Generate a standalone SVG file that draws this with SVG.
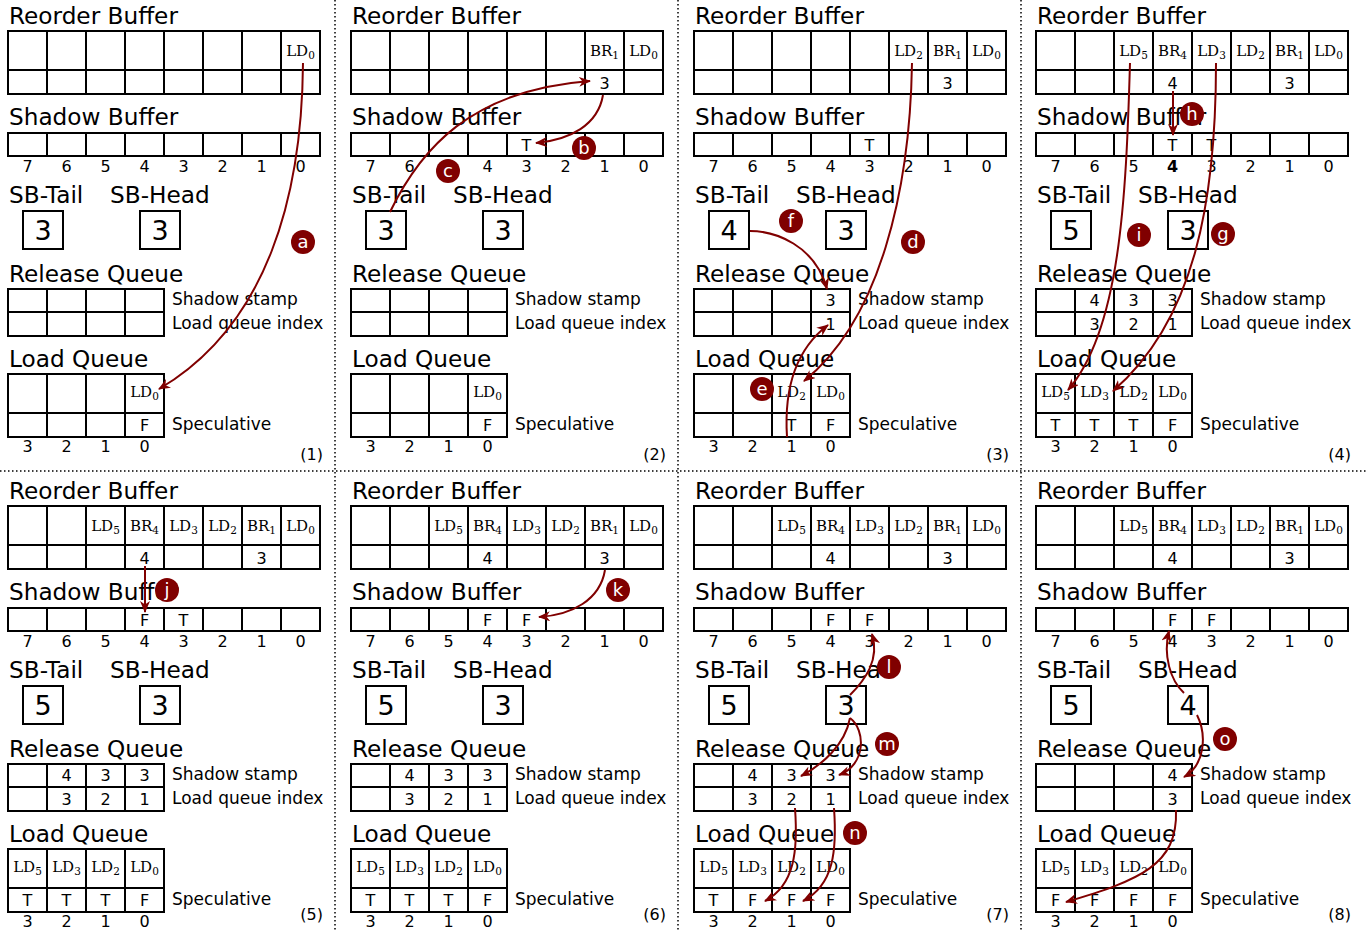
<svg xmlns="http://www.w3.org/2000/svg" width="1366" height="930" viewBox="0 0 1366 930">
<style>
.t{font-family:"DejaVu Sans","Liberation Sans",sans-serif;font-size:23.2px;fill:#000}
.l{font-family:"DejaVu Sans","Liberation Sans",sans-serif;font-size:17px;fill:#000}
.s{font-family:"DejaVu Sans","Liberation Sans",sans-serif;font-size:16px;fill:#000;text-anchor:middle}
.n{font-family:"DejaVu Sans","Liberation Sans",sans-serif;font-size:16px;fill:#000;text-anchor:end}
.b{font-family:"DejaVu Sans","Liberation Sans",sans-serif;font-size:27px;fill:#000;text-anchor:middle}
.c{font-family:"DejaVu Serif","Liberation Serif",serif;font-size:15px;fill:#000;text-anchor:middle}
.sub{font-size:10.5px}
.g{fill:none;stroke:#000;stroke-width:2}
.bx{fill:#fff;stroke:#000;stroke-width:2}
.sep{fill:none;stroke:#000;stroke-width:1.5;stroke-dasharray:1.5 2.5}
.ar{fill:none;stroke:#800000;stroke-width:2;marker-end:url(#ah)}
.lc{fill:#800000}
.lt{font-family:"DejaVu Sans","Liberation Sans",sans-serif;font-size:18px;fill:#fff;text-anchor:middle}
</style>
<defs>
<marker id="ah" markerWidth="14" markerHeight="12" refX="11" refY="5" orient="auto" markerUnits="userSpaceOnUse"><path d="M0,0L12,5L0,10L3.5,5Z" fill="#800000"/></marker>
</defs>
<rect width="1366" height="930" fill="#fff"/>
<g id="separators">
<path class="sep" d="M335,0V930M678,0V930M1021,0V930M0,471H1366"/>
</g>

<!-- Panel 1 -->
<g id="panel1" transform="translate(0,0)">
<g id="p1-rob"><text class="t" x="9" y="24">Reorder Buffer</text><rect class="bx" x="8" y="31" width="312" height="63"/><path class="g" d="M8,70H320M47,31V94M86,31V94M125,31V94M164,31V94M203,31V94M242,31V94M281,31V94"/>
<text class="c" x="300.5" y="56">LD<tspan class="sub" dy="3">0</tspan></text></g>
<g id="p1-sb"><text class="t" x="9" y="125">Shadow Buffer</text><rect class="bx" x="8" y="133" width="312" height="23"/><path class="g" d="M47,133V156M86,133V156M125,133V156M164,133V156M203,133V156M242,133V156M281,133V156"/>
<text class="s" x="27.5" y="172">7</text><text class="s" x="66.5" y="172">6</text><text class="s" x="105.5" y="172">5</text><text class="s" x="144.5" y="172">4</text><text class="s" x="183.5" y="172">3</text><text class="s" x="222.5" y="172">2</text><text class="s" x="261.5" y="172">1</text><text class="s" x="300.5" y="172">0</text></g>
<g id="p1-tail"><text class="t" x="9" y="203">SB-Tail</text><rect class="bx" x="23" y="211" width="40" height="38"/><text class="b" x="43" y="240">3</text></g>
<g id="p1-head"><text class="t" x="110" y="203">SB-Head</text><rect class="bx" x="140" y="211" width="40" height="38"/><text class="b" x="160" y="240">3</text></g>
<g id="p1-rq"><text class="t" x="9" y="282">Release Queue</text><rect class="bx" x="8" y="289" width="156" height="47"/><path class="g" d="M8,312H164M47,289V336M86,289V336M125,289V336"/>
<text class="l" x="172" y="305">Shadow stamp</text><text class="l" x="172" y="329">Load queue index</text></g>
<g id="p1-lq"><text class="t" x="9" y="367">Load Queue</text><rect class="bx" x="8" y="374" width="156" height="63"/><path class="g" d="M8,413H164M47,374V437M86,374V437M125,374V437"/>
<text class="l" x="172" y="430">Speculative</text>
<text class="s" x="27.5" y="452">3</text><text class="s" x="66.5" y="452">2</text><text class="s" x="105.5" y="452">1</text><text class="s" x="144.5" y="452">0</text>
<text class="c" x="144.5" y="397">LD<tspan class="sub" dy="3">0</tspan></text>
<text class="s" x="144.5" y="431">F</text></g>
<text class="n" x="323" y="460">(1)</text>
</g>

<!-- Panel 2 -->
<g id="panel2" transform="translate(343,0)">
<g id="p2-rob"><text class="t" x="9" y="24">Reorder Buffer</text><rect class="bx" x="8" y="31" width="312" height="63"/><path class="g" d="M8,70H320M47,31V94M86,31V94M125,31V94M164,31V94M203,31V94M242,31V94M281,31V94"/>
<text class="c" x="261.5" y="56">BR<tspan class="sub" dy="3">1</tspan></text><text class="c" x="300.5" y="56">LD<tspan class="sub" dy="3">0</tspan></text>
<text class="s" x="261.5" y="89">3</text></g>
<g id="p2-sb"><text class="t" x="9" y="125">Shadow Buffer</text><rect class="bx" x="8" y="133" width="312" height="23"/><path class="g" d="M47,133V156M86,133V156M125,133V156M164,133V156M203,133V156M242,133V156M281,133V156"/>
<text class="s" x="183.5" y="151">T</text>
<text class="s" x="27.5" y="172">7</text><text class="s" x="66.5" y="172">6</text><text class="s" x="105.5" y="172">5</text><text class="s" x="144.5" y="172">4</text><text class="s" x="183.5" y="172">3</text><text class="s" x="222.5" y="172">2</text><text class="s" x="261.5" y="172">1</text><text class="s" x="300.5" y="172">0</text></g>
<g id="p2-tail"><text class="t" x="9" y="203">SB-Tail</text><rect class="bx" x="23" y="211" width="40" height="38"/><text class="b" x="43" y="240">3</text></g>
<g id="p2-head"><text class="t" x="110" y="203">SB-Head</text><rect class="bx" x="140" y="211" width="40" height="38"/><text class="b" x="160" y="240">3</text></g>
<g id="p2-rq"><text class="t" x="9" y="282">Release Queue</text><rect class="bx" x="8" y="289" width="156" height="47"/><path class="g" d="M8,312H164M47,289V336M86,289V336M125,289V336"/>
<text class="l" x="172" y="305">Shadow stamp</text><text class="l" x="172" y="329">Load queue index</text></g>
<g id="p2-lq"><text class="t" x="9" y="367">Load Queue</text><rect class="bx" x="8" y="374" width="156" height="63"/><path class="g" d="M8,413H164M47,374V437M86,374V437M125,374V437"/>
<text class="l" x="172" y="430">Speculative</text>
<text class="s" x="27.5" y="452">3</text><text class="s" x="66.5" y="452">2</text><text class="s" x="105.5" y="452">1</text><text class="s" x="144.5" y="452">0</text>
<text class="c" x="144.5" y="397">LD<tspan class="sub" dy="3">0</tspan></text>
<text class="s" x="144.5" y="431">F</text></g>
<text class="n" x="323" y="460">(2)</text>
</g>

<!-- Panel 3 -->
<g id="panel3" transform="translate(686,0)">
<g id="p3-rob"><text class="t" x="9" y="24">Reorder Buffer</text><rect class="bx" x="8" y="31" width="312" height="63"/><path class="g" d="M8,70H320M47,31V94M86,31V94M125,31V94M164,31V94M203,31V94M242,31V94M281,31V94"/>
<text class="c" x="222.5" y="56">LD<tspan class="sub" dy="3">2</tspan></text><text class="c" x="261.5" y="56">BR<tspan class="sub" dy="3">1</tspan></text><text class="c" x="300.5" y="56">LD<tspan class="sub" dy="3">0</tspan></text>
<text class="s" x="261.5" y="89">3</text></g>
<g id="p3-sb"><text class="t" x="9" y="125">Shadow Buffer</text><rect class="bx" x="8" y="133" width="312" height="23"/><path class="g" d="M47,133V156M86,133V156M125,133V156M164,133V156M203,133V156M242,133V156M281,133V156"/>
<text class="s" x="183.5" y="151">T</text>
<text class="s" x="27.5" y="172">7</text><text class="s" x="66.5" y="172">6</text><text class="s" x="105.5" y="172">5</text><text class="s" x="144.5" y="172">4</text><text class="s" x="183.5" y="172">3</text><text class="s" x="222.5" y="172">2</text><text class="s" x="261.5" y="172">1</text><text class="s" x="300.5" y="172">0</text></g>
<g id="p3-tail"><text class="t" x="9" y="203">SB-Tail</text><rect class="bx" x="23" y="211" width="40" height="38"/><text class="b" x="43" y="240">4</text></g>
<g id="p3-head"><text class="t" x="110" y="203">SB-Head</text><rect class="bx" x="140" y="211" width="40" height="38"/><text class="b" x="160" y="240">3</text></g>
<g id="p3-rq"><text class="t" x="9" y="282">Release Queue</text><rect class="bx" x="8" y="289" width="156" height="47"/><path class="g" d="M8,312H164M47,289V336M86,289V336M125,289V336"/>
<text class="s" x="144.5" y="306">3</text><text class="s" x="144.5" y="330">1</text>
<text class="l" x="172" y="305">Shadow stamp</text><text class="l" x="172" y="329">Load queue index</text></g>
<g id="p3-lq"><text class="t" x="9" y="367">Load Queue</text><rect class="bx" x="8" y="374" width="156" height="63"/><path class="g" d="M8,413H164M47,374V437M86,374V437M125,374V437"/>
<text class="l" x="172" y="430">Speculative</text>
<text class="s" x="27.5" y="452">3</text><text class="s" x="66.5" y="452">2</text><text class="s" x="105.5" y="452">1</text><text class="s" x="144.5" y="452">0</text>
<text class="c" x="105.5" y="397">LD<tspan class="sub" dy="3">2</tspan></text><text class="c" x="144.5" y="397">LD<tspan class="sub" dy="3">0</tspan></text>
<text class="s" x="105.5" y="431">T</text><text class="s" x="144.5" y="431">F</text></g>
<text class="n" x="323" y="460">(3)</text>
</g>

<!-- Panel 4 -->
<g id="panel4" transform="translate(1028,0)">
<g id="p4-rob"><text class="t" x="9" y="24">Reorder Buffer</text><rect class="bx" x="8" y="31" width="312" height="63"/><path class="g" d="M8,70H320M47,31V94M86,31V94M125,31V94M164,31V94M203,31V94M242,31V94M281,31V94"/>
<text class="c" x="105.5" y="56">LD<tspan class="sub" dy="3">5</tspan></text><text class="c" x="144.5" y="56">BR<tspan class="sub" dy="3">4</tspan></text><text class="c" x="183.5" y="56">LD<tspan class="sub" dy="3">3</tspan></text><text class="c" x="222.5" y="56">LD<tspan class="sub" dy="3">2</tspan></text><text class="c" x="261.5" y="56">BR<tspan class="sub" dy="3">1</tspan></text><text class="c" x="300.5" y="56">LD<tspan class="sub" dy="3">0</tspan></text>
<text class="s" x="144.5" y="89">4</text><text class="s" x="261.5" y="89">3</text></g>
<g id="p4-sb"><text class="t" x="9" y="125">Shadow Buffer</text><rect class="bx" x="8" y="133" width="312" height="23"/><path class="g" d="M47,133V156M86,133V156M125,133V156M164,133V156M203,133V156M242,133V156M281,133V156"/>
<text class="s" x="144.5" y="151">T</text><text class="s" x="183.5" y="151">T</text>
<text class="s" x="27.5" y="172">7</text><text class="s" x="66.5" y="172">6</text><text class="s" x="105.5" y="172">5</text><text class="s" x="144.5" y="172" font-weight="bold">4</text><text class="s" x="183.5" y="172">3</text><text class="s" x="222.5" y="172">2</text><text class="s" x="261.5" y="172">1</text><text class="s" x="300.5" y="172">0</text></g>
<g id="p4-tail"><text class="t" x="9" y="203">SB-Tail</text><rect class="bx" x="23" y="211" width="40" height="38"/><text class="b" x="43" y="240">5</text></g>
<g id="p4-head"><text class="t" x="110" y="203">SB-Head</text><rect class="bx" x="140" y="211" width="40" height="38"/><text class="b" x="160" y="240">3</text></g>
<g id="p4-rq"><text class="t" x="9" y="282">Release Queue</text><rect class="bx" x="8" y="289" width="156" height="47"/><path class="g" d="M8,312H164M47,289V336M86,289V336M125,289V336"/>
<text class="s" x="66.5" y="306">4</text><text class="s" x="105.5" y="306">3</text><text class="s" x="144.5" y="306">3</text>
<text class="s" x="66.5" y="330">3</text><text class="s" x="105.5" y="330">2</text><text class="s" x="144.5" y="330">1</text>
<text class="l" x="172" y="305">Shadow stamp</text><text class="l" x="172" y="329">Load queue index</text></g>
<g id="p4-lq"><text class="t" x="9" y="367">Load Queue</text><rect class="bx" x="8" y="374" width="156" height="63"/><path class="g" d="M8,413H164M47,374V437M86,374V437M125,374V437"/>
<text class="l" x="172" y="430">Speculative</text>
<text class="s" x="27.5" y="452">3</text><text class="s" x="66.5" y="452">2</text><text class="s" x="105.5" y="452">1</text><text class="s" x="144.5" y="452">0</text>
<text class="c" x="27.5" y="397">LD<tspan class="sub" dy="3">5</tspan></text><text class="c" x="66.5" y="397">LD<tspan class="sub" dy="3">3</tspan></text><text class="c" x="105.5" y="397">LD<tspan class="sub" dy="3">2</tspan></text><text class="c" x="144.5" y="397">LD<tspan class="sub" dy="3">0</tspan></text>
<text class="s" x="27.5" y="431">T</text><text class="s" x="66.5" y="431">T</text><text class="s" x="105.5" y="431">T</text><text class="s" x="144.5" y="431">F</text></g>
<text class="n" x="323" y="460">(4)</text>
</g>

<!-- Panel 5 -->
<g id="panel5" transform="translate(0,475)">
<g id="p5-rob"><text class="t" x="9" y="24">Reorder Buffer</text><rect class="bx" x="8" y="31" width="312" height="63"/><path class="g" d="M8,70H320M47,31V94M86,31V94M125,31V94M164,31V94M203,31V94M242,31V94M281,31V94"/>
<text class="c" x="105.5" y="56">LD<tspan class="sub" dy="3">5</tspan></text><text class="c" x="144.5" y="56">BR<tspan class="sub" dy="3">4</tspan></text><text class="c" x="183.5" y="56">LD<tspan class="sub" dy="3">3</tspan></text><text class="c" x="222.5" y="56">LD<tspan class="sub" dy="3">2</tspan></text><text class="c" x="261.5" y="56">BR<tspan class="sub" dy="3">1</tspan></text><text class="c" x="300.5" y="56">LD<tspan class="sub" dy="3">0</tspan></text>
<text class="s" x="144.5" y="89">4</text><text class="s" x="261.5" y="89">3</text></g>
<g id="p5-sb"><text class="t" x="9" y="125">Shadow Buffer</text><rect class="bx" x="8" y="133" width="312" height="23"/><path class="g" d="M47,133V156M86,133V156M125,133V156M164,133V156M203,133V156M242,133V156M281,133V156"/>
<text class="s" x="144.5" y="151">F</text><text class="s" x="183.5" y="151">T</text>
<text class="s" x="27.5" y="172">7</text><text class="s" x="66.5" y="172">6</text><text class="s" x="105.5" y="172">5</text><text class="s" x="144.5" y="172">4</text><text class="s" x="183.5" y="172">3</text><text class="s" x="222.5" y="172">2</text><text class="s" x="261.5" y="172">1</text><text class="s" x="300.5" y="172">0</text></g>
<g id="p5-tail"><text class="t" x="9" y="203">SB-Tail</text><rect class="bx" x="23" y="211" width="40" height="38"/><text class="b" x="43" y="240">5</text></g>
<g id="p5-head"><text class="t" x="110" y="203">SB-Head</text><rect class="bx" x="140" y="211" width="40" height="38"/><text class="b" x="160" y="240">3</text></g>
<g id="p5-rq"><text class="t" x="9" y="282">Release Queue</text><rect class="bx" x="8" y="289" width="156" height="47"/><path class="g" d="M8,312H164M47,289V336M86,289V336M125,289V336"/>
<text class="s" x="66.5" y="306">4</text><text class="s" x="105.5" y="306">3</text><text class="s" x="144.5" y="306">3</text>
<text class="s" x="66.5" y="330">3</text><text class="s" x="105.5" y="330">2</text><text class="s" x="144.5" y="330">1</text>
<text class="l" x="172" y="305">Shadow stamp</text><text class="l" x="172" y="329">Load queue index</text></g>
<g id="p5-lq"><text class="t" x="9" y="367">Load Queue</text><rect class="bx" x="8" y="374" width="156" height="63"/><path class="g" d="M8,413H164M47,374V437M86,374V437M125,374V437"/>
<text class="l" x="172" y="430">Speculative</text>
<text class="s" x="27.5" y="452">3</text><text class="s" x="66.5" y="452">2</text><text class="s" x="105.5" y="452">1</text><text class="s" x="144.5" y="452">0</text>
<text class="c" x="27.5" y="397">LD<tspan class="sub" dy="3">5</tspan></text><text class="c" x="66.5" y="397">LD<tspan class="sub" dy="3">3</tspan></text><text class="c" x="105.5" y="397">LD<tspan class="sub" dy="3">2</tspan></text><text class="c" x="144.5" y="397">LD<tspan class="sub" dy="3">0</tspan></text>
<text class="s" x="27.5" y="431">T</text><text class="s" x="66.5" y="431">T</text><text class="s" x="105.5" y="431">T</text><text class="s" x="144.5" y="431">F</text></g>
<text class="n" x="323" y="445">(5)</text>
</g>

<!-- Panel 6 -->
<g id="panel6" transform="translate(343,475)">
<g id="p6-rob"><text class="t" x="9" y="24">Reorder Buffer</text><rect class="bx" x="8" y="31" width="312" height="63"/><path class="g" d="M8,70H320M47,31V94M86,31V94M125,31V94M164,31V94M203,31V94M242,31V94M281,31V94"/>
<text class="c" x="105.5" y="56">LD<tspan class="sub" dy="3">5</tspan></text><text class="c" x="144.5" y="56">BR<tspan class="sub" dy="3">4</tspan></text><text class="c" x="183.5" y="56">LD<tspan class="sub" dy="3">3</tspan></text><text class="c" x="222.5" y="56">LD<tspan class="sub" dy="3">2</tspan></text><text class="c" x="261.5" y="56">BR<tspan class="sub" dy="3">1</tspan></text><text class="c" x="300.5" y="56">LD<tspan class="sub" dy="3">0</tspan></text>
<text class="s" x="144.5" y="89">4</text><text class="s" x="261.5" y="89">3</text></g>
<g id="p6-sb"><text class="t" x="9" y="125">Shadow Buffer</text><rect class="bx" x="8" y="133" width="312" height="23"/><path class="g" d="M47,133V156M86,133V156M125,133V156M164,133V156M203,133V156M242,133V156M281,133V156"/>
<text class="s" x="144.5" y="151">F</text><text class="s" x="183.5" y="151">F</text>
<text class="s" x="27.5" y="172">7</text><text class="s" x="66.5" y="172">6</text><text class="s" x="105.5" y="172">5</text><text class="s" x="144.5" y="172">4</text><text class="s" x="183.5" y="172">3</text><text class="s" x="222.5" y="172">2</text><text class="s" x="261.5" y="172">1</text><text class="s" x="300.5" y="172">0</text></g>
<g id="p6-tail"><text class="t" x="9" y="203">SB-Tail</text><rect class="bx" x="23" y="211" width="40" height="38"/><text class="b" x="43" y="240">5</text></g>
<g id="p6-head"><text class="t" x="110" y="203">SB-Head</text><rect class="bx" x="140" y="211" width="40" height="38"/><text class="b" x="160" y="240">3</text></g>
<g id="p6-rq"><text class="t" x="9" y="282">Release Queue</text><rect class="bx" x="8" y="289" width="156" height="47"/><path class="g" d="M8,312H164M47,289V336M86,289V336M125,289V336"/>
<text class="s" x="66.5" y="306">4</text><text class="s" x="105.5" y="306">3</text><text class="s" x="144.5" y="306">3</text>
<text class="s" x="66.5" y="330">3</text><text class="s" x="105.5" y="330">2</text><text class="s" x="144.5" y="330">1</text>
<text class="l" x="172" y="305">Shadow stamp</text><text class="l" x="172" y="329">Load queue index</text></g>
<g id="p6-lq"><text class="t" x="9" y="367">Load Queue</text><rect class="bx" x="8" y="374" width="156" height="63"/><path class="g" d="M8,413H164M47,374V437M86,374V437M125,374V437"/>
<text class="l" x="172" y="430">Speculative</text>
<text class="s" x="27.5" y="452">3</text><text class="s" x="66.5" y="452">2</text><text class="s" x="105.5" y="452">1</text><text class="s" x="144.5" y="452">0</text>
<text class="c" x="27.5" y="397">LD<tspan class="sub" dy="3">5</tspan></text><text class="c" x="66.5" y="397">LD<tspan class="sub" dy="3">3</tspan></text><text class="c" x="105.5" y="397">LD<tspan class="sub" dy="3">2</tspan></text><text class="c" x="144.5" y="397">LD<tspan class="sub" dy="3">0</tspan></text>
<text class="s" x="27.5" y="431">T</text><text class="s" x="66.5" y="431">T</text><text class="s" x="105.5" y="431">T</text><text class="s" x="144.5" y="431">F</text></g>
<text class="n" x="323" y="445">(6)</text>
</g>

<!-- Panel 7 -->
<g id="panel7" transform="translate(686,475)">
<g id="p7-rob"><text class="t" x="9" y="24">Reorder Buffer</text><rect class="bx" x="8" y="31" width="312" height="63"/><path class="g" d="M8,70H320M47,31V94M86,31V94M125,31V94M164,31V94M203,31V94M242,31V94M281,31V94"/>
<text class="c" x="105.5" y="56">LD<tspan class="sub" dy="3">5</tspan></text><text class="c" x="144.5" y="56">BR<tspan class="sub" dy="3">4</tspan></text><text class="c" x="183.5" y="56">LD<tspan class="sub" dy="3">3</tspan></text><text class="c" x="222.5" y="56">LD<tspan class="sub" dy="3">2</tspan></text><text class="c" x="261.5" y="56">BR<tspan class="sub" dy="3">1</tspan></text><text class="c" x="300.5" y="56">LD<tspan class="sub" dy="3">0</tspan></text>
<text class="s" x="144.5" y="89">4</text><text class="s" x="261.5" y="89">3</text></g>
<g id="p7-sb"><text class="t" x="9" y="125">Shadow Buffer</text><rect class="bx" x="8" y="133" width="312" height="23"/><path class="g" d="M47,133V156M86,133V156M125,133V156M164,133V156M203,133V156M242,133V156M281,133V156"/>
<text class="s" x="144.5" y="151">F</text><text class="s" x="183.5" y="151">F</text>
<text class="s" x="27.5" y="172">7</text><text class="s" x="66.5" y="172">6</text><text class="s" x="105.5" y="172">5</text><text class="s" x="144.5" y="172">4</text><text class="s" x="183.5" y="172">3</text><text class="s" x="222.5" y="172">2</text><text class="s" x="261.5" y="172">1</text><text class="s" x="300.5" y="172">0</text></g>
<g id="p7-tail"><text class="t" x="9" y="203">SB-Tail</text><rect class="bx" x="23" y="211" width="40" height="38"/><text class="b" x="43" y="240">5</text></g>
<g id="p7-head"><text class="t" x="110" y="203">SB-Head</text><rect class="bx" x="140" y="211" width="40" height="38"/><text class="b" x="160" y="240">3</text></g>
<g id="p7-rq"><text class="t" x="9" y="282">Release Queue</text><rect class="bx" x="8" y="289" width="156" height="47"/><path class="g" d="M8,312H164M47,289V336M86,289V336M125,289V336"/>
<text class="s" x="66.5" y="306">4</text><text class="s" x="105.5" y="306">3</text><text class="s" x="144.5" y="306">3</text>
<text class="s" x="66.5" y="330">3</text><text class="s" x="105.5" y="330">2</text><text class="s" x="144.5" y="330">1</text>
<text class="l" x="172" y="305">Shadow stamp</text><text class="l" x="172" y="329">Load queue index</text></g>
<g id="p7-lq"><text class="t" x="9" y="367">Load Queue</text><rect class="bx" x="8" y="374" width="156" height="63"/><path class="g" d="M8,413H164M47,374V437M86,374V437M125,374V437"/>
<text class="l" x="172" y="430">Speculative</text>
<text class="s" x="27.5" y="452">3</text><text class="s" x="66.5" y="452">2</text><text class="s" x="105.5" y="452">1</text><text class="s" x="144.5" y="452">0</text>
<text class="c" x="27.5" y="397">LD<tspan class="sub" dy="3">5</tspan></text><text class="c" x="66.5" y="397">LD<tspan class="sub" dy="3">3</tspan></text><text class="c" x="105.5" y="397">LD<tspan class="sub" dy="3">2</tspan></text><text class="c" x="144.5" y="397">LD<tspan class="sub" dy="3">0</tspan></text>
<text class="s" x="27.5" y="431">T</text><text class="s" x="66.5" y="431">F</text><text class="s" x="105.5" y="431">F</text><text class="s" x="144.5" y="431">F</text></g>
<text class="n" x="323" y="445">(7)</text>
</g>

<!-- Panel 8 -->
<g id="panel8" transform="translate(1028,475)">
<g id="p8-rob"><text class="t" x="9" y="24">Reorder Buffer</text><rect class="bx" x="8" y="31" width="312" height="63"/><path class="g" d="M8,70H320M47,31V94M86,31V94M125,31V94M164,31V94M203,31V94M242,31V94M281,31V94"/>
<text class="c" x="105.5" y="56">LD<tspan class="sub" dy="3">5</tspan></text><text class="c" x="144.5" y="56">BR<tspan class="sub" dy="3">4</tspan></text><text class="c" x="183.5" y="56">LD<tspan class="sub" dy="3">3</tspan></text><text class="c" x="222.5" y="56">LD<tspan class="sub" dy="3">2</tspan></text><text class="c" x="261.5" y="56">BR<tspan class="sub" dy="3">1</tspan></text><text class="c" x="300.5" y="56">LD<tspan class="sub" dy="3">0</tspan></text>
<text class="s" x="144.5" y="89">4</text><text class="s" x="261.5" y="89">3</text></g>
<g id="p8-sb"><text class="t" x="9" y="125">Shadow Buffer</text><rect class="bx" x="8" y="133" width="312" height="23"/><path class="g" d="M47,133V156M86,133V156M125,133V156M164,133V156M203,133V156M242,133V156M281,133V156"/>
<text class="s" x="144.5" y="151">F</text><text class="s" x="183.5" y="151">F</text>
<text class="s" x="27.5" y="172">7</text><text class="s" x="66.5" y="172">6</text><text class="s" x="105.5" y="172">5</text><text class="s" x="144.5" y="172">4</text><text class="s" x="183.5" y="172">3</text><text class="s" x="222.5" y="172">2</text><text class="s" x="261.5" y="172">1</text><text class="s" x="300.5" y="172">0</text></g>
<g id="p8-tail"><text class="t" x="9" y="203">SB-Tail</text><rect class="bx" x="23" y="211" width="40" height="38"/><text class="b" x="43" y="240">5</text></g>
<g id="p8-head"><text class="t" x="110" y="203">SB-Head</text><rect class="bx" x="140" y="211" width="40" height="38"/><text class="b" x="160" y="240">4</text></g>
<g id="p8-rq"><text class="t" x="9" y="282">Release Queue</text><rect class="bx" x="8" y="289" width="156" height="47"/><path class="g" d="M8,312H164M47,289V336M86,289V336M125,289V336"/>
<text class="s" x="144.5" y="306">4</text><text class="s" x="144.5" y="330">3</text>
<text class="l" x="172" y="305">Shadow stamp</text><text class="l" x="172" y="329">Load queue index</text></g>
<g id="p8-lq"><text class="t" x="9" y="367">Load Queue</text><rect class="bx" x="8" y="374" width="156" height="63"/><path class="g" d="M8,413H164M47,374V437M86,374V437M125,374V437"/>
<text class="l" x="172" y="430">Speculative</text>
<text class="s" x="27.5" y="452">3</text><text class="s" x="66.5" y="452">2</text><text class="s" x="105.5" y="452">1</text><text class="s" x="144.5" y="452">0</text>
<text class="c" x="27.5" y="397">LD<tspan class="sub" dy="3">5</tspan></text><text class="c" x="66.5" y="397">LD<tspan class="sub" dy="3">3</tspan></text><text class="c" x="105.5" y="397">LD<tspan class="sub" dy="3">2</tspan></text><text class="c" x="144.5" y="397">LD<tspan class="sub" dy="3">0</tspan></text>
<text class="s" x="27.5" y="431">F</text><text class="s" x="66.5" y="431">F</text><text class="s" x="105.5" y="431">F</text><text class="s" x="144.5" y="431">F</text></g>
<text class="n" x="323" y="445">(8)</text>
</g>

<g id="connectors">
<path class="ar" d="M303,63C302,195 268,325 159,389"/>
<path class="ar" d="M603,95C598,125 570,140 536,143"/>
<path class="ar" d="M390,212C420,150 470,90 590,81"/>
<path class="ar" d="M912,63C910,190 880,320 804,381"/>
<path class="ar" d="M787,437C784,390 795,350 828,325"/>
<path class="ar" d="M750,231C775,231 815,245 827,289"/>
<path class="ar" d="M1173,91L1173,135"/>
<path class="ar" d="M1130,63C1126,200 1120,330 1068,390"/>
<path class="ar" d="M1216,63C1216,200 1195,320 1113,391"/>
<path class="ar" d="M145,566L145,612"/>
<path class="ar" d="M605,570C600,600 572,615 539,617"/>
<path class="ar" d="M850,695C865,680 880,660 872,634"/>
<path class="ar" d="M850,718C845,745 822,765 801,776"/>
<path class="ar" d="M850,718C866,730 866,765 839,775"/>
<path class="ar" d="M795,808C798,850 795,885 765,901"/>
<path class="ar" d="M834,808C837,850 834,885 803,901"/>
<path class="ar" d="M1184,693C1170,680 1163,655 1169,631"/>
<path class="ar" d="M1197,715C1207,735 1205,765 1184,777"/>
<path class="ar" d="M1176,810C1178,865 1140,880 1066,902"/>
</g>

<g id="step-labels">
<g id="lbl-a"><circle class="lc" cx="303" cy="242" r="12"/><text class="lt" x="303" y="248">a</text></g>
<g id="lbl-b"><circle class="lc" cx="584" cy="148" r="12"/><text class="lt" x="584" y="154">b</text></g>
<g id="lbl-c"><circle class="lc" cx="448" cy="171" r="12"/><text class="lt" x="448" y="177">c</text></g>
<g id="lbl-d"><circle class="lc" cx="913" cy="242" r="12"/><text class="lt" x="913" y="248">d</text></g>
<g id="lbl-e"><circle class="lc" cx="762" cy="389" r="12"/><text class="lt" x="762" y="395">e</text></g>
<g id="lbl-f"><circle class="lc" cx="791" cy="221" r="12"/><text class="lt" x="791" y="227">f</text></g>
<g id="lbl-g"><circle class="lc" cx="1223" cy="234" r="12"/><text class="lt" x="1223" y="240">g</text></g>
<g id="lbl-h"><circle class="lc" cx="1192" cy="114" r="12"/><text class="lt" x="1192" y="120">h</text></g>
<g id="lbl-i"><circle class="lc" cx="1139" cy="235" r="12"/><text class="lt" x="1139" y="241">i</text></g>
<g id="lbl-j"><circle class="lc" cx="167" cy="590" r="12"/><text class="lt" x="167" y="596">j</text></g>
<g id="lbl-k"><circle class="lc" cx="618" cy="590" r="12"/><text class="lt" x="618" y="596">k</text></g>
<g id="lbl-l"><circle class="lc" cx="889" cy="667" r="12"/><text class="lt" x="889" y="673">l</text></g>
<g id="lbl-m"><circle class="lc" cx="887" cy="744" r="12"/><text class="lt" x="887" y="750">m</text></g>
<g id="lbl-n"><circle class="lc" cx="855" cy="833" r="12"/><text class="lt" x="855" y="839">n</text></g>
<g id="lbl-o"><circle class="lc" cx="1225" cy="739" r="12"/><text class="lt" x="1225" y="745">o</text></g>
</g>
</svg>
